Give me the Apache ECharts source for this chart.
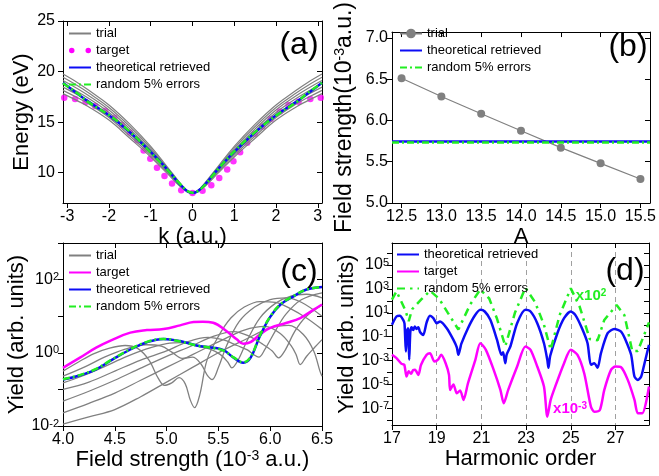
<!DOCTYPE html>
<html>
<head>
<meta charset="utf-8">
<script src="https://cdn.jsdelivr.net/npm/echarts@6/dist/echarts.min.js"></script>
<style>
html, body { margin: 0; padding: 0; background: #fff; }
#chart { width: 659px; height: 476px; }
</style>
</head>
<body>
<div id="chart"></div>
<script>
// ---------- (a) energy vs k ----------
const aK = [-3.1, -2.75, -2.5, -2.0, -1.5, -1.0, -0.6, -0.3, -0.12, 0, 0.12, 0.3, 0.6, 1.0, 1.5, 2.0, 2.5, 2.75, 3.1];
const aTrial = [
  [19.75, 18.9, 18.2, 16.7, 14.8, 12.6, 10.55, 9.0, 8.2, 8.0, 8.2, 9.0, 10.55, 12.6, 14.8, 16.7, 18.2, 18.9, 19.75],
  [19.43, 18.6, 17.93, 16.45, 14.57, 12.43, 10.44, 8.94, 8.18, 8.0, 8.18, 8.94, 10.44, 12.43, 14.57, 16.45, 17.93, 18.6, 19.43],
  [19.11, 18.3, 17.65, 16.2, 14.33, 12.25, 10.33, 8.88, 8.17, 8.0, 8.17, 8.88, 10.33, 12.25, 14.33, 16.2, 17.65, 18.3, 19.11],
  [18.79, 18.0, 17.38, 15.95, 14.1, 12.08, 10.23, 8.83, 8.15, 8.0, 8.15, 8.83, 10.23, 12.08, 14.1, 15.95, 17.38, 18.0, 18.79],
  [18.46, 17.7, 17.1, 15.7, 13.87, 11.9, 10.12, 8.77, 8.13, 8.0, 8.13, 8.77, 10.12, 11.9, 13.87, 15.7, 17.1, 17.7, 18.46],
  [18.14, 17.4, 16.83, 15.45, 13.63, 11.73, 10.01, 8.71, 8.12, 8.0, 8.12, 8.71, 10.01, 11.73, 13.63, 15.45, 16.83, 17.4, 18.14],
  [17.82, 17.1, 16.55, 15.2, 13.4, 11.55, 9.9, 8.65, 8.1, 8.0, 8.1, 8.65, 9.9, 11.55, 13.4, 15.2, 16.55, 17.1, 17.82]
];
const aFit = [18.9, 17.8, 17.05, 15.67, 14.0, 12.05, 10.3, 8.85, 8.15, 8.0, 8.15, 8.85, 10.3, 12.05, 14.0, 15.67, 17.05, 17.8, 18.9];
const aNoise = [18.85, 17.82, 17.0, 15.7, 14.05, 12.0, 10.28, 8.9, 8.18, 8.02, 8.15, 8.82, 10.3, 12.1, 14.02, 15.65, 17.02, 17.85, 18.88];
const aTargetK = [-3.07, -2.81, -2.56, -2.33, -2.09, -1.87, -1.69, -1.5, -1.32, -1.17, -1.01, -0.85, -0.67, -0.49, -0.27, 0,
  0.24, 0.45, 0.64, 0.83, 0.98, 1.14, 1.31, 1.49, 1.67, 1.87, 2.09, 2.3, 2.54, 2.82, 3.07];
const aTargetE = [17.41, 17.28, 16.99, 16.6, 16.13, 15.43, 14.72, 13.97, 13.2, 12.2, 11.38, 10.49, 9.66, 8.92, 8.26, 8.0,
  8.2, 8.75, 9.47, 10.32, 11.14, 12.02, 12.97, 13.85, 14.57, 15.32, 16.04, 16.7, 17.02, 17.28, 17.41];

// ---------- (b) field strength vs A ----------
const bA = [12.5, 13.0, 13.5, 14.0, 14.5, 15.0, 15.5];
const bTrial = [6.51, 6.29, 6.08, 5.875, 5.67, 5.48, 5.29];
const bRetrieved = 5.745;
const bNoise = 5.735;

// ---------- (c) yield vs field strength (log10 of yield) ----------
const cTrial = [
  [[4.0, -0.5], [4.15, -0.25], [4.3, -0.02], [4.45, 0.13], [4.6, 0.2], [4.72, 0.12], [4.83, -0.2], [4.92, -0.7], [4.98, -0.89], [5.05, -0.82], [5.12, -0.68], [5.18, -0.85], [5.23, -1.3], [5.27, -1.5], [5.32, -1.15], [5.39, -0.2], [5.5, 0.45], [5.62, 0.95], [5.75, 1.25], [5.9, 1.4], [6.05, 1.38], [6.2, 1.2], [6.35, 0.95], [6.5, 0.64]],
  [[4.0, -0.64], [4.2, -0.4], [4.4, -0.12], [4.6, 0.1], [4.8, 0.22], [4.95, 0.18], [5.05, 0.02], [5.15, -0.15], [5.25, -0.12], [5.33, -0.3], [5.39, -0.6], [5.44, -0.73], [5.5, -0.4], [5.58, 0.2], [5.7, 0.85], [5.85, 1.25], [6.0, 1.45], [6.15, 1.5], [6.3, 1.38], [6.5, 1.0]],
  [[4.0, -0.82], [4.2, -0.62], [4.4, -0.38], [4.6, -0.12], [4.8, 0.1], [5.0, 0.25], [5.15, 0.28], [5.3, 0.18], [5.42, 0.1], [5.52, -0.05], [5.59, -0.25], [5.63, -0.41], [5.69, -0.2], [5.78, 0.35], [5.9, 0.95], [6.05, 1.35], [6.2, 1.55], [6.35, 1.6], [6.5, 1.5]],
  [[4.0, -1.0], [4.25, -0.8], [4.5, -0.5], [4.75, -0.2], [5.0, 0.05], [5.2, 0.3], [5.4, 0.42], [5.55, 0.35], [5.68, 0.2], [5.78, 0.08], [5.84, -0.05], [5.89, -0.12], [5.95, 0.1], [6.05, 0.6], [6.15, 1.05], [6.3, 1.45], [6.5, 1.64]],
  [[4.0, -1.32], [4.25, -1.05], [4.5, -0.75], [4.75, -0.42], [5.0, -0.1], [5.25, 0.2], [5.45, 0.45], [5.65, 0.58], [5.8, 0.45], [5.92, 0.25], [6.02, 0.05], [6.08, -0.14], [6.14, 0.05], [6.24, 0.6], [6.35, 1.0], [6.5, 1.3]],
  [[4.0, -1.64], [4.25, -1.38], [4.5, -1.1], [4.75, -0.75], [5.0, -0.4], [5.25, -0.05], [5.5, 0.3], [5.75, 0.62], [5.95, 0.72], [6.1, 0.52], [6.2, 0.2], [6.25, -0.05], [6.29, -0.32], [6.35, -0.1], [6.43, 0.15], [6.5, 0.36]],
  [[4.0, -1.95], [4.25, -1.75], [4.5, -1.55], [4.75, -1.2], [5.0, -0.8], [5.25, -0.4], [5.5, 0.0], [5.75, 0.35], [6.0, 0.68], [6.18, 0.75], [6.32, 0.5], [6.42, 0.05], [6.48, -0.5], [6.5, -0.64]]
];
const cTargetF = [4.0, 4.16, 4.32, 4.48, 4.65, 4.81, 4.97, 5.13, 5.26, 5.35, 5.45, 5.58, 5.68, 5.74, 5.81, 5.9, 6.0, 6.16, 6.29, 6.42, 6.5];
const cTargetLog = [-0.41, -0.14, 0.14, 0.36, 0.55, 0.62, 0.65, 0.75, 0.84, 0.85, 0.82, 0.59, 0.36, 0.25, 0.29, 0.5, 0.68, 0.82, 0.95, 1.18, 1.32];
const cFitF = [4.0, 4.16, 4.32, 4.48, 4.65, 4.81, 4.97, 5.13, 5.29, 5.45, 5.55, 5.65, 5.74, 5.81, 5.9, 6.0, 6.1, 6.23, 6.35, 6.5];
const cFitLog = [-0.73, -0.62, -0.45, -0.18, 0.09, 0.29, 0.38, 0.32, 0.2, 0.14, 0.07, -0.14, -0.27, -0.14, 0.45, 0.98, 1.32, 1.55, 1.73, 1.8];
const cNoiseLog = [-0.72, -0.61, -0.44, -0.17, 0.1, 0.3, 0.38, 0.31, 0.2, 0.13, 0.06, -0.13, -0.26, -0.12, 0.47, 0.99, 1.33, 1.56, 1.73, 1.8];

// ---------- (d) harmonic spectra (log10 of yield) ----------
const dFitH = [17.0, 17.2, 17.35, 17.5, 17.56, 17.62, 17.67, 17.72, 17.77, 17.82, 17.88, 17.95, 18.02, 18.1, 18.18, 18.25, 18.32, 18.4, 18.55, 18.7, 18.85, 19.0, 19.15, 19.45, 19.75, 19.9, 19.97, 20.05, 20.1, 20.4, 20.7, 20.95, 21.15, 21.4, 21.7, 21.9, 21.97, 22.07, 22.13, 22.3, 22.6, 22.97, 23.2, 23.5, 23.8, 23.95, 24.0, 24.08, 24.4, 24.7, 25.0, 25.2, 25.5, 25.75, 25.9, 26.05, 26.2, 26.35, 26.65, 26.95, 27.25, 27.45, 27.7, 27.85, 28.0, 28.15, 28.3, 28.5];
const dFitLog = [0.0, 0.69, 0.75, 0.41, 0.1, -2.24, -0.5, -0.3, -2.94, -0.6, -0.2, -0.45, -0.15, -0.35, -0.2, -0.6, -0.75, -0.85, 0.2, 0.75, 0.55, 0.13, 0.27, -0.29, -1.27, -1.9, -2.52, -2.0, -1.6, -0.29, 0.75, 1.25, 1.11, 0.41, -1.27, -2.52, -2.3, -3.22, -2.5, -1.8, 0.13, 1.25, 1.11, 0.13, -1.55, -2.94, -3.6, -2.6, -0.71, 0.55, 1.11, 0.83, -0.29, -1.55, -3.36, -3.22, -3.6, -2.38, -0.71, -0.35, -0.57, -1.27, -2.52, -4.34, -4.62, -4.34, -3.22, -1.69];
const dTargetH = [17.0, 17.2, 17.43, 17.55, 17.65, 17.75, 17.85, 17.95, 18.03, 18.18, 18.3, 18.55, 18.7, 18.9, 19.07, 19.2, 19.4, 19.55, 19.6, 19.75, 19.9, 20.05, 20.2, 20.4, 20.73, 20.95, 21.2, 21.55, 21.85, 22.0, 22.2, 22.6, 22.97, 23.2, 23.5, 23.8, 23.95, 24.1, 24.3, 24.7, 25.0, 25.3, 25.6, 25.9, 26.05, 26.3, 26.5, 26.8, 27.0, 27.25, 27.55, 27.85, 28.0, 28.2, 28.5];
const dTargetLog = [-2.52, -2.8, -3.28, -3.35, -4.34, -3.9, -4.1, -3.8, -3.78, -4.2, -3.36, -2.52, -2.38, -3.08, -2.9, -2.52, -3.22, -4.2, -5.46, -5.0, -5.74, -5.5, -6.3, -4.9, -2.94, -1.55, -2.1, -3.78, -5.46, -6.58, -5.46, -3.5, -1.83, -2.1, -3.5, -5.18, -7.7, -6.3, -5.2, -3.22, -2.1, -2.52, -4.06, -6.86, -7.28, -7.14, -5.46, -3.78, -3.5, -3.56, -4.62, -6.3, -7.42, -7.42, -5.18];
const dNoiseH = [17.0, 17.2, 17.6, 17.75, 17.9, 18.3, 18.7, 19.1, 19.5, 19.97, 20.5, 20.95, 21.35, 21.7, 22.07, 22.5, 22.97, 23.4, 23.8, 24.1, 24.5, 25.0, 25.4, 25.85, 26.2, 26.5, 27.05, 27.4, 27.75, 28.0, 28.5];
const dNoiseLog = [2.1, 2.8, 1.2, 0.3, 1.3, 2.1, 2.85, 2.2, 1.0, -0.4, 1.7, 2.95, 2.2, 0.5, -1.8, 1.0, 3.1, 1.9, 0.0, -2.1, 0.8, 3.05, 1.5, -1.2, -1.3, 0.4, 1.65, 0.8, -2.2, -2.2, 0.2];

const FONT = '"Liberation Sans", Arial, sans-serif';
const GRAY = '#808080', MAG = '#ff00ff', BLUE = '#0c0cf5', GREEN = '#22ee22';
const DASHDOT = [7, 3, 2, 3];

const chart = echarts.init(document.getElementById('chart'));

const grids = [
  { left: 63, top: 21, width: 259, height: 182 },
  { left: 392, top: 21, width: 259, height: 182 },
  { left: 63, top: 243, width: 259, height: 183 },
  { left: 392, top: 243, width: 257, height: 182 }
];

const supLabel = { s: { fontSize: 11, fontFamily: FONT, color: '#000', verticalAlign: 'top' } };
const logFmt = v => '10{s|' + v + '}';

// main axis (labels, outward ticks) + mirror axis (inward ticks) for a frame like Origin
function axisPair(dim, gridIndex, o) {
  const main = {
    type: 'value', gridIndex, min: o.min, max: o.max, interval: o.interval,
    position: dim === 'x' ? 'bottom' : 'left',
    name: o.name, nameLocation: 'middle', nameGap: o.nameGap,
    nameTextStyle: { fontSize: o.nameSize || 22, fontFamily: FONT, color: '#000',
      rich: { s: { fontSize: 14, fontFamily: FONT, color: '#000', verticalAlign: 'top' } } },
    axisLine: { show: true, onZero: false, lineStyle: { color: '#000', width: 1 } },
    axisTick: { show: true, inside: false, length: 5, lineStyle: { color: '#000' } },
    axisLabel: { fontSize: 16, fontFamily: FONT, color: '#000', margin: o.margin,
      formatter: o.fmt, rich: supLabel, showMaxLabel: o.showMax, showMinLabel: true },
    splitLine: o.split || { show: false }
  };
  const mirror = {
    type: 'value', gridIndex, min: o.min, max: o.max, interval: o.interval,
    position: dim === 'x' ? 'top' : 'right',
    axisLine: { show: true, onZero: false, lineStyle: { color: '#000', width: 1 } },
    axisTick: { show: true, inside: true, length: 5, lineStyle: { color: '#000' } },
    axisLabel: { show: false },
    splitLine: { show: false }
  };
  if (o.ticks) { main.axisTick.customValues = o.ticks; mirror.axisTick.customValues = o.ticks; }
  if (o.labels) main.axisLabel.customValues = o.labels;
  return [main, mirror];
}

const xAxis = [
  ...axisPair('x', 0, { min: -3.1, max: 3.1, ticks: [-3, -2, -1, 0, 1, 2, 3], labels: [-3, -2, -1, 0, 1, 2, 3], name: 'k (a.u.)', nameGap: 20, margin: 6 }),
  ...axisPair('x', 1, { min: 12.38, max: 15.62, ticks: bA, labels: bA, fmt: v => v.toFixed(1), name: 'A', nameGap: 20, margin: 6 }),
  ...axisPair('x', 2, { min: 4, max: 6.5, interval: 0.5, fmt: v => v.toFixed(1), name: 'Field strength (10{s|-3} a.u.)', nameGap: 22, margin: 6 }),
  ...axisPair('x', 3, { min: 17, max: 28.5, interval: 2, showMax: false, name: 'Harmonic order', nameGap: 22, margin: 6,
    split: { show: true, lineStyle: { color: '#a0a0a0', type: [5, 4], width: 1 } } })
];
const yAxis = [
  ...axisPair('y', 0, { min: 7, max: 25, ticks: [10, 15, 20, 25], labels: [10, 15, 20, 25], name: 'Energy (eV)', nameGap: 30, margin: 8 }),
  ...axisPair('y', 1, { min: 5, max: 7.07, ticks: [5, 5.5, 6, 6.5, 7], labels: [5, 5.5, 6, 6.5, 7], fmt: v => v.toFixed(1), name: 'Field strength(10{s|-3}a.u.)', nameGap: 36, nameSize: 23, margin: 4 }),
  ...axisPair('y', 2, { min: -2, max: 3, interval: 1, labels: [-2, 0, 2], fmt: logFmt, name: 'Yield (arb. units)', nameGap: 31, margin: 4 }),
  ...axisPair('y', 3, { min: -8.4, max: 6.85, ticks: [-8, -7, -6, -5, -4, -3, -2, -1, 0, 1, 2, 3, 4, 5, 6], labels: [-7, -5, -3, -1, 1, 3, 5], fmt: logFmt, name: 'Yield (arb. units)', nameGap: 32, margin: 3 })
];

const pairs = (xs, ys) => xs.map((x, i) => [x, ys[i]]);
function line(name, p, data, color, width, extra) {
  return Object.assign({
    name, type: 'line', xAxisIndex: 2 * p, yAxisIndex: 2 * p, data,
    symbol: 'none', lineStyle: { color, width }, itemStyle: { color }
  }, extra || {});
}

const series = [];
// (a)
aTrial.forEach(arr => series.push(line('a:trial', 0, pairs(aK, arr), GRAY, 1.2, { smooth: 0.4 })));
series.push({ name: 'a:target', type: 'scatter', xAxisIndex: 0, yAxisIndex: 0, data: pairs(aTargetK, aTargetE), symbolSize: 6.5, itemStyle: { color: MAG } });
series.push(line('a:theoretical retrieved', 0, pairs(aK, aFit), BLUE, 2.5, { smooth: 0.4 }));
series.push(line('a:random 5% errors', 0, pairs(aK, aNoise), GREEN, 2.5, { smooth: 0.4, lineStyle: { color: GREEN, width: 2.5, type: DASHDOT } }));
// (b)
series.push(line('b:trial', 1, pairs(bA, bTrial), GRAY, 1.2, { symbol: 'circle', symbolSize: 8, showSymbol: true }));
series.push(line('b:theoretical retrieved', 1, [], BLUE, 2.5, {
  markLine: { silent: true, symbol: 'none', label: { show: false }, lineStyle: { color: BLUE, width: 2.5, type: 'solid' }, data: [{ yAxis: bRetrieved }] }
}));
series.push(line('b:random 5% errors', 1, [], GREEN, 2.5, {
  lineStyle: { color: GREEN, width: 2.5, type: DASHDOT },
  markLine: { silent: true, symbol: 'none', label: { show: false }, lineStyle: { color: GREEN, width: 2.5, type: DASHDOT }, data: [{ yAxis: bNoise }] }
}));
// (c)
cTrial.forEach(arr => series.push(line('c:trial', 2, arr, GRAY, 1.3, { smooth: 0.35 })));
series.push(line('c:target', 2, pairs(cTargetF, cTargetLog), MAG, 2.5, { smooth: 0.4 }));
series.push(line('c:theoretical retrieved', 2, pairs(cFitF, cFitLog), BLUE, 2.5, { smooth: 0.4 }));
series.push(line('c:random 5% errors', 2, pairs(cFitF, cNoiseLog), GREEN, 2.5, { smooth: 0.4, lineStyle: { color: GREEN, width: 2.5, type: DASHDOT } }));
// (d)
series.push(line('d:theoretical retrieved', 3, pairs(dFitH, dFitLog), BLUE, 2.5, { smooth: 0.25 }));
series.push(line('d:target', 3, pairs(dTargetH, dTargetLog), MAG, 2.5, { smooth: 0.25 }));
series.push(line('d:random 5% errors', 3, pairs(dNoiseH, dNoiseLog), GREEN, 2.5, { lineStyle: { color: GREEN, width: 2.5, type: [8, 5, 2.5, 5] } }));

// legend: line icons only (symbol hidden), except the marker items
const DOTS = 'path://M0,2.5A2.5,2.5 0 1,0 5,2.5A2.5,2.5 0 1,0 0,2.5Z M15,2.5A2.5,2.5 0 1,0 20,2.5A2.5,2.5 0 1,0 15,2.5Z';
const shown = { opacity: 1 };
const legendBase = {
  orient: 'vertical', itemWidth: 22, itemHeight: 12, itemGap: 4, padding: 0, selectedMode: false,
  formatter: n => n.slice(2),
  itemStyle: { opacity: 0 },
  lineStyle: { opacity: 1 },
  textStyle: { fontSize: 13, fontFamily: FONT, color: '#000' }
};
const legend = [
  Object.assign({ left: 68, top: 27, data: ['a:trial', { name: 'a:target', icon: DOTS, itemStyle: shown }, 'a:theoretical retrieved', 'a:random 5% errors'] }, legendBase),
  Object.assign({ left: 399, top: 27, data: [{ name: 'b:trial', itemStyle: shown }, 'b:theoretical retrieved', 'b:random 5% errors'] }, legendBase),
  Object.assign({ left: 68, top: 249, data: ['c:trial', 'c:target', 'c:theoretical retrieved', 'c:random 5% errors'] }, legendBase),
  Object.assign({ left: 396, top: 248, data: ['d:theoretical retrieved', 'd:target', 'd:random 5% errors'] }, legendBase)
];

function panelText(txt, x, y) {
  return { type: 'text', x, y, z: 100, style: { text: txt, font: '32px ' + FONT, fill: '#000',
    align: 'center', verticalAlign: 'middle', textAlign: 'center', textVerticalAlign: 'middle' } };
}
function scaleText(txt, x, y, color) {
  return { type: 'text', x, y, z: 100, style: { text: txt, font: 'bold 15px ' + FONT, fill: color,
    align: 'center', verticalAlign: 'middle', textAlign: 'center', textVerticalAlign: 'middle',
    rich: { s: { font: 'bold 10px ' + FONT, fill: color, verticalAlign: 'top' } } } };
}

chart.setOption({
  animation: false,
  backgroundColor: '#fff',
  grid: grids,
  xAxis, yAxis, series, legend,
  graphic: [
    panelText('(a)', 299, 45),
    panelText('(b)', 628, 47),
    panelText('(c)', 299, 272),
    panelText('(d)', 625, 271),
    scaleText('x10{s|2}', 591, 296, GREEN),
    scaleText('x10{s|-3}', 570, 409, MAG)
  ]
});
window.addEventListener('resize', () => chart.resize());
</script>
</body>
</html>
